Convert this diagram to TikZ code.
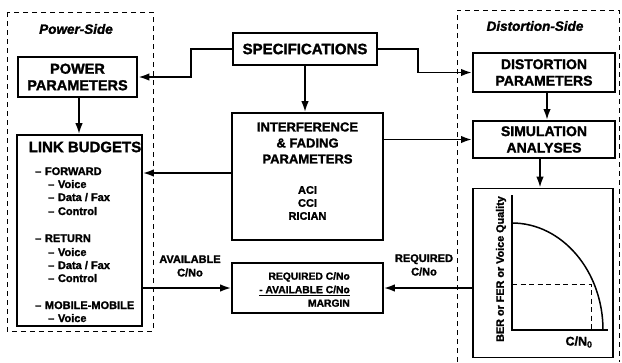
\documentclass[tikz,border=0pt]{standalone}
\usepackage{fontspec}
\setmainfont{Liberation Sans}[BoldFeatures={FakeBold=1.6},BoldItalicFeatures={FakeBold=1.6}]
\usetikzlibrary{arrows.meta}
\tikzset{
  box/.style={draw, line width=2pt, inner sep=0pt},
  thinbox/.style={draw, line width=1.6pt, inner sep=0pt},
  arr/.style={line width=1.9pt, -{Latex[length=11pt,width=7.5pt]}},
  side/.style={draw, dashed, line width=0.9pt, dash pattern=on 5pt off 4pt},
  big/.style={font=\bfseries\fontsize{15}{17}\selectfont, align=center, inner sep=0pt},
  mid/.style={font=\bfseries\fontsize{13}{16}\selectfont, align=center, inner sep=0pt},
  small/.style={font=\bfseries\fontsize{11}{13}\selectfont, inner sep=0pt},
  sidetitle/.style={font=\bfseries\itshape\fontsize{13.5}{16}\selectfont, inner sep=0pt},
}
\begin{document}
\begin{tikzpicture}[x=1pt,y=-1pt]
\useasboundingbox (0,0) rectangle (622,362);
% side frames
\draw[side] (7,12) rectangle (153,331);
\draw[side] (457,362) -- (457,10) -- (619,10) -- (619,362);
\node[sidetitle] (pst) at (76,29) {Power-Side};
\node[sidetitle] (dst) at (535,26) {Distortion-Side};

% boxes
\node[box, line width=2.6pt, minimum width=144, minimum height=32] (spec) at (305,49) {};
\node[big] (spect) at (spec.center) {SPECIFICATIONS};
\node[box, line width=2.6pt, minimum width=119, minimum height=40] (pp) at (77.5,77) {};
\node[big, font=\bfseries\fontsize{14.5}{16.5}\selectfont] (ppt) at (pp.center) {POWER\\PARAMETERS};
\node[box, minimum width=142, minimum height=39] (dist) at (544,72.5) {};
\node[big, font=\bfseries\fontsize{14}{16.5}\selectfont] (distt) at (dist.center) {DISTORTION\\PARAMETERS};
\node[box, minimum width=142, minimum height=37] (sim) at (544,139.5) {};
\node[big, font=\bfseries\fontsize{14}{16.5}\selectfont] (simt) at (sim.center) {SIMULATION\\ANALYSES};
\node[thinbox, minimum width=151, minimum height=127] (intf) at (307.5,176.5) {};
\node[mid] (intft) at (307.5,143) {INTERFERENCE\\\& FADING\\PARAMETERS};
\node[small, align=center] (intfl) at (307.5,203) {ACI\\CCI\\RICIAN};
\node[thinbox, minimum width=125, minimum height=191] (lb) at (79.5,230.5) {};
\node[big] (lbt) at (85,147) {LINK BUDGETS};
\node[thinbox, minimum width=151, minimum height=50] (req) at (307.5,288) {};
\node[small, align=right, anchor=east, font=\bfseries\fontsize{10.3}{13.5}\selectfont] (reqt) at (350,289.5) {REQUIRED C/No\\\underline{- AVAILABLE C/No}\\MARGIN};
\node[thinbox, minimum width=140, minimum height=169] (graph) at (543,273) {};

% link budget items
\node[small, anchor=base west] (i1) at (35,175) {–\,\,FORWARD};
\node[small, anchor=base west] (i2) at (48,188) {–\,\,Voice};
\node[small, anchor=base west] (i3) at (48,201) {–\,\,Data / Fax};
\node[small, anchor=base west] (i4) at (48,215) {–\,\,Control};
\node[small, anchor=base west] (i5) at (35,242) {–\,\,RETURN};
\node[small, anchor=base west] (i6) at (48,256) {–\,\,Voice};
\node[small, anchor=base west] (i7) at (48,269) {–\,\,Data / Fax};
\node[small, anchor=base west] (i8) at (48,282) {–\,\,Control};
\node[small, anchor=base west] (i9) at (35,309) {–\,\,MOBILE-MOBILE};
\node[small, anchor=base west] (i10) at (48,322) {–\,\,Voice};

% connector labels
\node[small, align=center, font=\bfseries\fontsize{11}{13.5}\selectfont] (avl) at (190,266) {AVAILABLE\\C/No};
\node[small, align=center, font=\bfseries\fontsize{11}{13.5}\selectfont] (rql) at (424,265) {REQUIRED\\C/No};

% connectors
\coordinate (k1) at (191,0);
\coordinate (k2) at (418,0);
\draw[arr] (spec.west) -| (k1 |- pp.east) -- (pp.east);
\draw[arr] (spec.east) -| (k2 |- dist.west) -- (dist.west);
\draw[arr] (spec.south) -- (spec.south |- intf.north);
\draw[arr] ([xshift=1.5pt]pp.south) -- ([xshift=1.5pt]pp.south |- lb.north);
\draw[arr] ([xshift=3pt]dist.south) -- ([xshift=3pt]dist.south |- sim.north);
\draw[arr] ([xshift=-4pt]sim.south) -- ([xshift=-4pt]sim.south |- graph.north);
\draw[arr] ([yshift=3.5pt]intf.west) -- ([yshift=3.5pt]intf.west -| lb.east);
\draw[arr] (intf.east |- sim.west) -- (sim.west);
\draw[arr] (lb.east |- req.west) -- (req.west);
\draw[arr] (graph.west |- req.east) -- (req.east);

% graph
\coordinate (o) at (512,330);
\coordinate (ytop) at (512,195);
\coordinate (xend) at (608,330);
\draw[line width=1.3pt] (ytop) -- (o) -- (xend);
\draw[line width=1.5pt] (512,223) .. controls (562,223) and (603,271) .. (603,330);
\draw[line width=1pt, dash pattern=on 5pt off 3.5pt] (512,284) -- (591,284) -- (591,330);
\node[small, rotate=90, font=\bfseries\fontsize{10.8}{12}\selectfont] (yl) at (501,269) {BER or FER or Voice Quality};
\node[small, font=\bfseries\fontsize{12.5}{14}\selectfont] (xl) at (579,342) {C/N$_{\mathbf 0}$};
\end{tikzpicture}
\end{document}
